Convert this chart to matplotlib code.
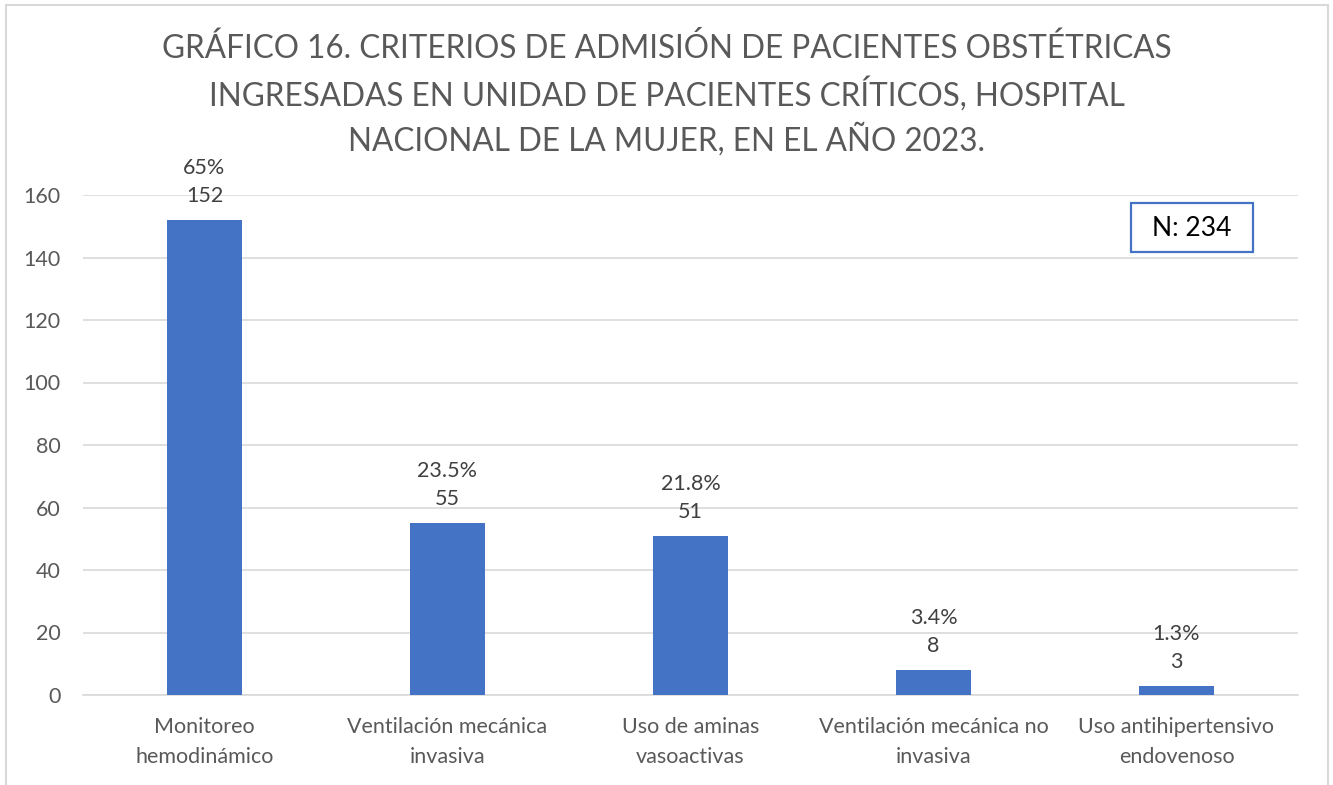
import matplotlib
matplotlib.use("Agg")
import matplotlib.pyplot as plt
from matplotlib.patches import Rectangle

categories = ["Monitoreo\nhemodinámico", "Ventilación mecánica\ninvasiva", "Uso de aminas\nvasoactivas",
              "Ventilación mecánica no\ninvasiva", "Uso antihipertensivo\nendovenoso"]
values = [152, 55, 51, 8, 3]
percents = ["65%", "23.5%", "21.8%", "3.4%", "1.3%"]
yticks = [0, 20, 40, 60, 80, 100, 120, 140, 160]
title = "GRÁFICO 16. CRITERIOS DE ADMISIÓN DE PACIENTES OBSTÉTRICAS\nINGRESADAS EN UNIDAD DE PACIENTES CRÍTICOS, HOSPITAL\nNACIONAL DE LA MUJER, EN EL AÑO 2023."
n_label = "N: 234"

plt.rcParams['font.family'] = ['Lato', 'DejaVu Sans']
gray = "#595959"
W, H = 1333, 785

fig = plt.figure(figsize=(W/100, H/100), dpi=100)
# outer border
fig.add_artist(Rectangle((6/W, -0.01), (1328-6)/W, 1 - 5/H + 0.01, transform=fig.transFigure,
                         fill=False, edgecolor="#D9D9D9", linewidth=1.5))

ax = fig.add_axes([83/W, 1-695/H, (1298-83)/W, (695-195)/H])
x = range(len(categories))
ax.bar(x, values, width=0.31, color="#4472C4", zorder=3)
ax.set_xlim(-0.5, len(categories)-0.5)
ax.set_ylim(0, 160)
ax.set_yticks(yticks)
ax.yaxis.grid(True, color="#D9D9D9", linewidth=1.2, zorder=0)
for s in ["top", "right", "left"]:
    ax.spines[s].set_visible(False)
ax.spines["bottom"].set_color("#D9D9D9")
ax.spines["bottom"].set_linewidth(1.2)
ax.tick_params(axis="both", length=0, colors=gray, labelsize=15.5)
ax.tick_params(axis="y", pad=16)
ax.tick_params(axis="x", pad=16)
ax.set_xticks(list(x))
ax.set_xticklabels(categories, linespacing=1.6)

for i, (v, p) in enumerate(zip(values, percents)):
    ax.annotate(f"{p}\n{v}", (i, v), xytext=(0, 10), textcoords="offset points",
                ha="center", va="bottom", fontsize=15.5, color="#404040", linespacing=1.5)

fig.text(0.5, 1-95/H, title, ha="center", va="center", fontsize=22.7, color=gray, linespacing=1.42)

fig.add_artist(Rectangle((1131/W, 1-252/H), 122/W, 49/H, transform=fig.transFigure,
                         facecolor="white", edgecolor="#4472C4", linewidth=1.6, zorder=5))
fig.text(1192/W, 1-228/H, n_label, ha="center", va="center", fontsize=19, color="black", zorder=6)

fig.savefig("out.png", dpi=100)
